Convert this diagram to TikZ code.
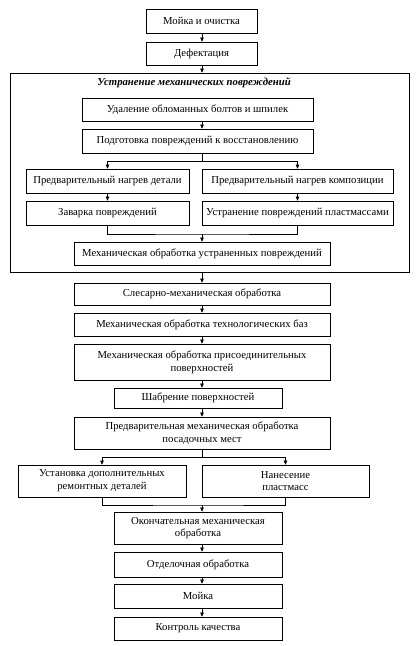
\documentclass[tikz,border=0pt]{standalone}
\usepackage{fontspec}
\setmainfont{Liberation Serif}
\usetikzlibrary{arrows.meta}
\tikzset{
    stage/.style={draw, line width=0.75pt, align=center, inner sep=1pt, font=\fontsize{10.7}{12.8}\selectfont},
    arr/.style={-{Triangle[length=4pt,width=3.6pt]}, line width=0.65pt},
    link/.style={line width=0.65pt}
}

\begin{document}
\begin{tikzpicture}[x=1pt,y=-1pt]
        \useasboundingbox (0,0) rectangle (416,646);
        % Axis of the main column
        \coordinate (axis) at (202,0);

        % Upper stages
        \node[stage, minimum width=111pt, minimum height=24pt] (wash) at (201.5,21) {Мойка и очистка};
        \node[stage, minimum width=111pt, minimum height=23pt] (defect) at (201.5,53.5) {Дефектация};

        % Frame of the repair block
        \node[draw, line width=0.75pt, minimum width=399pt, minimum height=199pt] (frame) at (209.5,172.5) {};
        \node[font=\fontsize{10.7}{12.8}\selectfont\bfseries\itshape] (title) at (194,83) {Устранение механических повреждений};
        \node[stage, minimum width=231pt, minimum height=23pt] (remove) at (197.5,109.5) {Удаление обломанных болтов и шпилек};
        \node[stage, minimum width=231pt, minimum height=24pt] (prep) at (197.5,141) {Подготовка повреждений к восстановлению};
        \node[stage, minimum width=163pt, minimum height=24pt] (heatpart) at (107.5,181) {Предварительный нагрев детали};
        \node[stage, minimum width=191pt, minimum height=24pt] (heatcomp) at (297.5,181) {Предварительный нагрев композиции};
        \node[stage, minimum width=163pt, minimum height=24pt] (weld) at (107.5,213) {Заварка повреждений};
        \node[stage, minimum width=191pt, minimum height=24pt] (plastic) at (297.5,213) {Устранение повреждений пластмассами};
        \node[stage, minimum width=256pt, minimum height=23pt] (machdam) at (202,253.5) {Механическая обработка устраненных повреждений};

        % Machining stages
        \node[stage, minimum width=256pt, minimum height=22pt] (fitter) at (202,294) {Слесарно-механическая обработка};
        \node[stage, minimum width=256pt, minimum height=23pt] (bases) at (202,324.5) {Механическая обработка технологических баз};
        \node[stage, minimum width=256pt, minimum height=36pt] (joins) at (202,362) {Механическая обработка присоединительных\\поверхностей};
        \node[stage, minimum width=168pt, minimum height=20pt] (scrape) at (198,398) {Шабрение поверхностей};
        \node[stage, minimum width=256pt, minimum height=32pt] (prelim) at (202,433) {Предварительная механическая обработка\\посадочных мест};
        \node[stage, minimum width=168pt, minimum height=32pt] (extra) at (102,481) {Установка дополнительных\\ремонтных деталей};
        \node[stage, minimum width=167pt, minimum height=32pt] (coat) at (285.5,481) {Нанесение\\пластмасс};

        % Final stages
        \node[stage, minimum width=168pt, minimum height=32pt] (final) at (198,528) {Окончательная механическая\\обработка};
        \node[stage, minimum width=168pt, minimum height=25pt] (finish) at (198,564.5) {Отделочная обработка};
        \node[stage, minimum width=168pt, minimum height=24pt] (wash2) at (198,596) {Мойка};
        \node[stage, minimum width=168pt, minimum height=23pt] (control) at (198,628.5) {Контроль качества};

        % Straight arrows along the axis
        \foreach \a/\b in {wash/defect, defect/frame, remove/prep, frame/fitter, fitter/bases, bases/joins, joins/scrape, scrape/prelim, final/finish, finish/wash2, wash2/control} {
            \draw[arr] (\a.south -| axis) -- (\b.north -| axis);
        }
        \draw[arr] (heatpart) -- (weld);
        \draw[arr] (heatcomp) -- (plastic);

        % Branches and merges
        \coordinate (split1) at (202,161);
        \coordinate (merge1) at (202,234);
        \coordinate (split2) at (202,457);
        \coordinate (merge2) at (202,505);
        \draw[link] (prep.south -| axis) -- (split1);
        \draw[arr] (split1) -| (heatpart.north);
        \draw[arr] (split1) -| (heatcomp.north);
        \draw[link] (weld.south) |- (merge1) -| (plastic.south);
        \draw[arr] (merge1) -- (machdam.north -| axis);
        \draw[link] (prelim.south -| axis) -- (split2);
        \draw[arr] (split2) -| (extra.north);
        \draw[arr] (split2) -| (coat.north);
        \draw[link] (extra.south) |- (merge2) -| (coat.south);
        \draw[arr] (merge2) -- (final.north -| axis);
    \end{tikzpicture}
\end{document}
